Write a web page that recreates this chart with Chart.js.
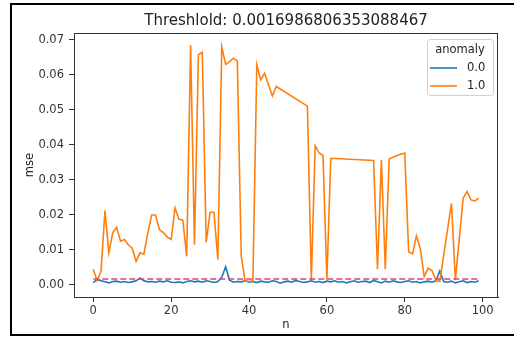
<!DOCTYPE html>
<html>
<head>
<meta charset="utf-8">
<script src="https://cdn.jsdelivr.net/npm/chart.js@4"></script>
<style>
  html, body { margin: 0; padding: 0; background: #fff; overflow: hidden; }
  canvas { display: block; }
</style>
</head>
<body>
<canvas id="myChart" width="514" height="346"></canvas>
<script>
"use strict";

// Values
const threshold = 0.0016986806353088467;
const seriesLabels = ["0.0", "1.0"];
const xTicks = [0, 20, 40, 60, 80, 100];
const yTicks = [0, 0.01, 0.02, 0.03, 0.04, 0.05, 0.06, 0.07];

// anomaly = 0.0
const blueN = [];
for (let i = 0; i < 100; i++) blueN.push(i);
const blueMse = [
	0.0007, 0.0016, 0.0012, 0.0009, 0.0006, 0.0010, 0.0011, 0.0008, 0.0010, 0.0007,
	0.0009, 0.0012, 0.0020, 0.0012, 0.0009, 0.0010, 0.0008, 0.0011, 0.0009, 0.0012,
	0.0008, 0.0007, 0.0009, 0.0006, 0.0010, 0.0012, 0.0009, 0.0011, 0.0008, 0.0012,
	0.0010, 0.0007, 0.0010, 0.0022, 0.0052, 0.0014, 0.0008, 0.0010, 0.0009, 0.0012,
	0.0008, 0.0010, 0.0007, 0.0011, 0.0009, 0.0008, 0.0012, 0.0010, 0.0005, 0.0009,
	0.0011, 0.0008, 0.0013, 0.0010, 0.0007, 0.0009, 0.0012, 0.0008, 0.0010, 0.0007,
	0.0011, 0.0009, 0.0012, 0.0008, 0.0010, 0.0006, 0.0009, 0.0012, 0.0008, 0.0010,
	0.0011, 0.0007, 0.0013, 0.0009, 0.0006, 0.0011, 0.0008, 0.0012, 0.0009, 0.0007,
	0.0010, 0.0012, 0.0008, 0.0010, 0.0006, 0.0009, 0.0011, 0.0008, 0.0012, 0.0040,
	0.0010, 0.0008, 0.0011, 0.0006, 0.0009, 0.0012, 0.0007, 0.0010, 0.0008, 0.0012
];

// anomaly = 1.0
const orangeN = [
	0, 1, 2, 3, 4, 5, 6, 7, 8, 9,
	10, 11, 12, 13, 14, 15, 16, 17, 18, 19,
	20, 21, 22, 23, 24, 25, 26, 27, 28, 29,
	30, 31, 32, 33, 34, 35, 36, 37, 38, 39,
	40, 41, 42, 43, 44, 45, 46, 47,
	55, 56, 57, 58, 59, 60, 61,
	72, 73, 74, 75, 76, 78, 80,
	81, 82, 83, 84, 85, 86, 87, 88, 89,
	92, 93, 95, 96, 97, 98, 99
];
const orangeMse = [
	0.0045, 0.0012, 0.0040, 0.0213, 0.0092, 0.0150, 0.0165, 0.0125, 0.0130, 0.0115,
	0.0105, 0.0068, 0.0092, 0.0088, 0.0148, 0.0200, 0.0200, 0.0158, 0.0150, 0.0137,
	0.0130, 0.0220, 0.0188, 0.0185, 0.0082, 0.0685, 0.0115, 0.0658, 0.0665, 0.0122,
	0.0208, 0.0208, 0.0072, 0.0680, 0.0630, 0.0638, 0.0648, 0.0640, 0.0082, 0.0012,
	0.0010, 0.0012, 0.0629, 0.0586, 0.0605, 0.0572, 0.0540, 0.0567,
	0.0511, 0.0015, 0.0398, 0.0377, 0.0370, 0.0015, 0.0362,
	0.0356, 0.0045, 0.0358, 0.0045, 0.0360, 0.0370, 0.0377,
	0.0095, 0.0089, 0.0140, 0.0104, 0.0024, 0.0048, 0.0041, 0.0013, 0.0010,
	0.0233, 0.0014, 0.0248, 0.0267, 0.0243, 0.0240, 0.0248
];

const thresholdN = [0, 99];

function toPoints(xs, ys) {
	return xs.map(function (x, i) {
		return { x: x, y: ys[i] };
	});
}

// black frame of the screenshot (left, top and bottom edges only)
const framePlugin = {
	id: "frame",
	beforeDraw(chart) {
		const ctx = chart.ctx;
		ctx.save();
		ctx.strokeStyle = "#000";
		ctx.lineWidth = 2;
		ctx.beginPath();
		ctx.moveTo(chart.width + 5, 4);
		ctx.lineTo(11, 4);
		ctx.lineTo(11, 335);
		ctx.lineTo(chart.width + 5, 335);
		ctx.stroke();
		ctx.restore();
	}
};

// matplotlib-like box around the plot area
const spinesPlugin = {
	id: "spines",
	afterDraw(chart) {
		const a = chart.chartArea;
		const ctx = chart.ctx;
		ctx.save();
		ctx.strokeStyle = "#333";
		ctx.lineWidth = 1;
		ctx.strokeRect(Math.round(a.left) + 0.5, Math.round(a.top) + 0.5,
			Math.round(a.right - a.left) - 1, Math.round(a.bottom - a.top));
		ctx.restore();
	}
};

// legend box in the upper right corner, with a title
const boxLegendPlugin = {
	id: "boxLegend",
	afterDraw(chart) {
		const a = chart.chartArea;
		const ctx = chart.ctx;
		const items = chart.data.datasets
			.filter(function (d) { return d.inLegend; })
			.sort(function (p, q) { return seriesLabels.indexOf(p.label) - seriesLabels.indexOf(q.label); });
		const w = 66, rowH = 18, h = 20 + items.length * rowH;
		const right = a.right - 5, top = a.top + 6;
		const left = right - w;
		ctx.save();
		ctx.fillStyle = "rgba(255,255,255,0.8)";
		ctx.strokeStyle = "#d0d0d0";
		ctx.lineWidth = 1;
		ctx.beginPath();
		ctx.roundRect(left + 0.5, top + 0.5, w, h, 3);
		ctx.fill();
		ctx.stroke();
		ctx.font = "11.5px 'DejaVu Sans'";
		ctx.fillStyle = "#222";
		ctx.textBaseline = "middle";
		ctx.textAlign = "center";
		ctx.fillText("anomaly", left + w / 2, top + 11);
		ctx.textAlign = "left";
		items.forEach(function (d, i) {
			const y = top + 29 + i * rowH;
			ctx.strokeStyle = d.borderColor;
			ctx.lineWidth = 1.6;
			ctx.beginPath();
			ctx.moveTo(left + 3, y);
			ctx.lineTo(left + 30, y);
			ctx.stroke();
			ctx.fillStyle = "#222";
			ctx.fillText(d.label, left + 40, y);
		});
		ctx.restore();
	}
};

function generateChart() {
	const ctx = document.getElementById("myChart");
	const tickFont = { family: "'DejaVu Sans'", size: 11.5 };

	new Chart(ctx, {
		type: "line",
		data: {
			datasets: [
				{
					label: "threshold",
					data: toPoints(thresholdN, [threshold, threshold]),
					borderColor: "#e0407e",
					borderWidth: 1.6,
					borderDash: [6, 3],
					pointRadius: 0,
					order: 0,
					inLegend: false
				},
				{
					label: seriesLabels[1],
					data: toPoints(orangeN, orangeMse),
					borderColor: "#ff7f0e",
					borderWidth: 1.6,
					pointRadius: 0,
					tension: 0,
					order: 1,
					inLegend: true
				},
				{
					label: seriesLabels[0],
					data: toPoints(blueN, blueMse),
					borderColor: "#1f77b4",
					borderWidth: 1.6,
					pointRadius: 0,
					tension: 0,
					order: 2,
					inLegend: true
				}
			]
		},
		options: {
			responsive: false,
			animation: false,
			devicePixelRatio: 1,
			layout: { padding: { top: 0, right: 16, bottom: 0, left: 0 } },
			plugins: {
				legend: { display: false },
				tooltip: { enabled: false },
				title: {
					display: true,
					text: "Threshlold: 0.0016986806353088467",
					fullSize: false,
					color: "#222",
					font: { family: "'DejaVu Sans'", size: 15, weight: "normal" },
					padding: { top: 12, bottom: 3 }
				}
			},
			scales: {
				x: {
					type: "linear",
					min: -4.95,
					max: 103.95,
					afterBuildTicks(scale) {
						scale.ticks = xTicks.map(function (v) { return { value: v }; });
					},
					afterFit(scale) {
						scale.height = 49;
					},
					ticks: { color: "#333", font: tickFont, padding: 2, autoSkip: false, maxRotation: 0 },
					grid: { drawOnChartArea: false, tickLength: 5, color: "#333" },
					border: { color: "#333" },
					title: { display: true, text: "n", color: "#222", font: tickFont, padding: { top: 0, bottom: 14 } }
				},
				y: {
					min: -0.00343,
					max: 0.072,
					afterBuildTicks(scale) {
						scale.ticks = yTicks.map(function (v) { return { value: v }; });
					},
					afterFit(scale) {
						scale.width = 74;
					},
					ticks: {
						color: "#333",
						font: tickFont,
						padding: 5,
						autoSkip: false,
						callback: function (v) { return v.toFixed(2); }
					},
					grid: { drawOnChartArea: false, tickLength: 5, color: "#333" },
					border: { color: "#333" },
					title: { display: true, text: "mse", color: "#222", font: tickFont, padding: { top: 23, bottom: 0 } }
				}
			}
		},
		plugins: [framePlugin, spinesPlugin, boxLegendPlugin]
	});
}

generateChart();
</script>
</body>
</html>
